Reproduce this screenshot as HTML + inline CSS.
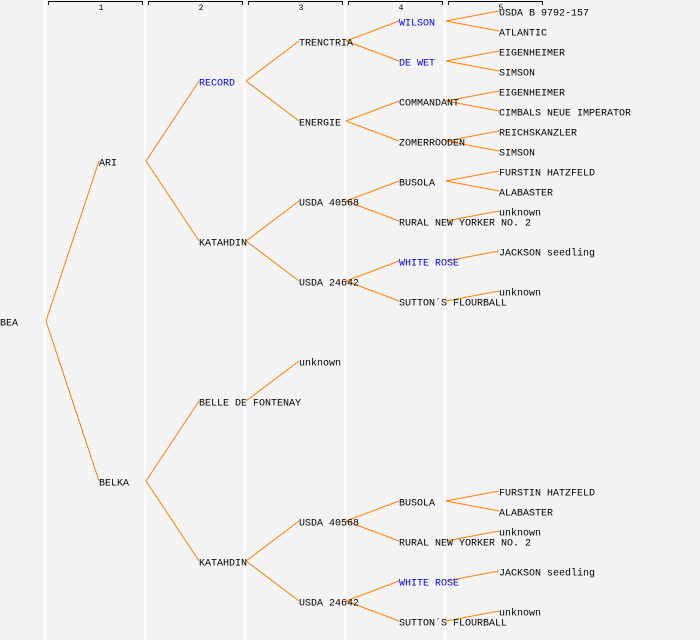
<!DOCTYPE html>
<html><head><meta charset="utf-8"><style>
html,body{margin:0;padding:0;background:#f4f4f4;}
svg{display:block}
text{font-family:"Liberation Mono",monospace;font-size:10px;fill:#000;}
.b{fill:#0000ff}
.n{font-size:8px}
</style></head><body>
<svg width="700" height="640" viewBox="0 0 700 640" xmlns="http://www.w3.org/2000/svg">
<rect width="700" height="640" fill="#f4f4f4"/>
<g stroke="#ffffff" stroke-width="2">
<line x1="45" y1="0" x2="45" y2="640"/><line x1="145" y1="0" x2="145" y2="640"/><line x1="245" y1="0" x2="245" y2="640"/><line x1="345" y1="0" x2="345" y2="640"/><line x1="445" y1="0" x2="445" y2="640"/>
</g>
<g stroke="#000" stroke-width="1" fill="none">
<path d="M48.5 5V1.5H142.5V5"/><path d="M148.5 5V1.5H242.5V5"/><path d="M248.5 5V1.5H342.5V5"/><path d="M348.5 5V1.5H442.5V5"/><path d="M448.5 5V1.5H542.5V5"/>
</g>
<g class="n" text-anchor="middle">
<text class="n" x="101" y="10">1</text><text class="n" x="201" y="10">2</text><text class="n" x="301" y="10">3</text><text class="n" x="401" y="10">4</text><text class="n" x="501" y="10">5</text>
</g>
<g stroke="#ff8000" stroke-width="1" fill="none">
<path d="M46 321L99 161M46 321L99 481"/>
<path d="M146 161L199 81M146 161L199 241M146 481L199 401M146 481L199 561"/>
<path d="M246 81L299 41M246 81L299 121M246 241L299 201M246 241L299 281M246 401L299 361M246 561L299 521M246 561L299 601"/>
<path d="M346 41L399 21M346 41L399 61M346 121L399 101M346 121L399 141M346 201L399 181M346 201L399 221M346 281L399 261M346 281L399 301M346 521L399 501M346 521L399 541M346 601L399 581M346 601L399 621"/>
<path d="M446 21L499 11M446 21L499 31M446 61L499 51M446 61L499 71M446 101L499 91M446 101L499 111M446 141L499 131M446 141L499 151M446 181L499 171M446 181L499 191M446 221L499 211M446 261L499 251M446 301L499 291M446 501L499 491M446 501L499 511M446 541L499 531M446 581L499 571M446 621L499 611"/>
</g>
<g dominant-baseline="central" transform="translate(0,2)">
<text x="0" y="322">BEA</text>
<text x="99" y="162">ARI</text><text x="99" y="482">BELKA</text>
<text class="b" x="199" y="82">RECORD</text><text x="199" y="242">KATAHDIN</text><text x="199" y="402">BELLE DE FONTENAY</text><text x="199" y="562">KATAHDIN</text>
<text x="299" y="42">TRENCTRIA</text><text x="299" y="122">ENERGIE</text><text x="299" y="202">USDA 40568</text><text x="299" y="282">USDA 24642</text><text x="299" y="362">unknown</text><text x="299" y="522">USDA 40568</text><text x="299" y="602">USDA 24642</text>
<text class="b" x="399" y="22">WILSON</text><text class="b" x="399" y="62">DE WET</text><text x="399" y="102">COMMANDANT</text><text x="399" y="142">ZOMERROODEN</text><text x="399" y="182">BUSOLA</text><text x="399" y="222">RURAL NEW YORKER NO. 2</text><text class="b" x="399" y="262">WHITE ROSE</text><text x="399" y="302">SUTTON´S FLOURBALL</text>
<text x="399" y="502">BUSOLA</text><text x="399" y="542">RURAL NEW YORKER NO. 2</text><text class="b" x="399" y="582">WHITE ROSE</text><text x="399" y="622">SUTTON´S FLOURBALL</text>
<text x="499" y="12">USDA B 9792-157</text><text x="499" y="32">ATLANTIC</text><text x="499" y="52">EIGENHEIMER</text><text x="499" y="72">SIMSON</text><text x="499" y="92">EIGENHEIMER</text><text x="499" y="112">CIMBALS NEUE IMPERATOR</text><text x="499" y="132">REICHSKANZLER</text><text x="499" y="152">SIMSON</text><text x="499" y="172">FURSTIN HATZFELD</text><text x="499" y="192">ALABASTER</text><text x="499" y="212">unknown</text><text x="499" y="252">JACKSON seedling</text><text x="499" y="292">unknown</text>
<text x="499" y="492">FURSTIN HATZFELD</text><text x="499" y="512">ALABASTER</text><text x="499" y="532">unknown</text><text x="499" y="572">JACKSON seedling</text><text x="499" y="612">unknown</text>
</g>
</svg>
</body></html>
